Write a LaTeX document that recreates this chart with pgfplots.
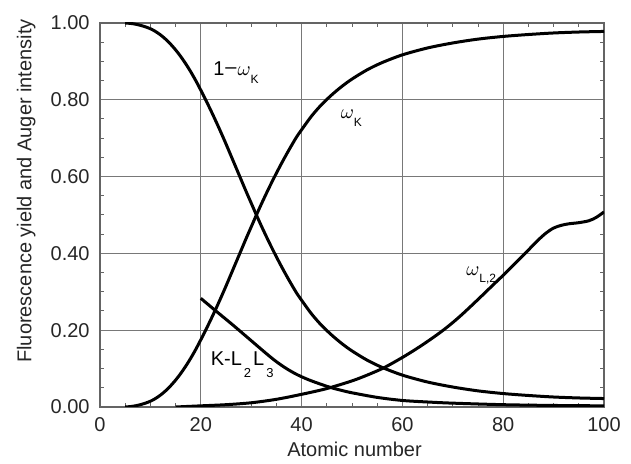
\documentclass[border=0pt]{standalone}
\usepackage{fontspec}
\setmainfont{Liberation Sans}
\usepackage{pgfplots}
\pgfplotsset{compat=1.18}
\usetikzlibrary{calc}
\definecolor{gridc}{RGB}{120,120,120}
\definecolor{framec}{RGB}{100,100,100}
\tikzset{curve/.style={black, line width=1.5pt, smooth, tension=0.5, mark=none}}
\begin{document}
\begin{tikzpicture}
\begin{axis}[
  scale only axis,
  width=252pt, height=192pt,
  xmin=0, xmax=100, ymin=0, ymax=1,
  xtick={0,20,40,60,80,100},
  ytick={0,0.2,0.4,0.6,0.8,1.0},
  minor x tick num=3,
  minor y tick num=3,
  tick align=inside,
  major tick length=0pt,
  minor tick length=2.2pt,
  grid=major,
  major grid style={draw=gridc, line width=0.6pt},
  axis line style={draw=framec, line width=0.6pt},
  every tick/.style={draw=framec, line width=0.5pt},
  /pgf/number format/assume math mode=true,
  yticklabel style={/pgf/number format/fixed, /pgf/number format/fixed zerofill, /pgf/number format/precision=2},
  tick label style={font=\fontsize{10}{12}\selectfont, text=black!85, inner sep=0pt},
  xticklabel style={yshift=-5pt},
  yticklabel style={xshift=-5pt},
  xlabel={Atomic number},
  ylabel={Fluorescence yield and Auger intensity},
  label style={font=\fontsize{10}{12}\selectfont, text=black!85},
  xlabel style={at={(axis description cs:0.505,-0.128)}, anchor=base},
  ylabel style={at={(axis description cs:-0.136,0.5625)}, anchor=base},
]
% 1 - omega_K
\addplot[curve] coordinates {
(5,1.000) (6,0.999) (7,0.997) (8,0.994) (9,0.990) (10,0.985) (11,0.978)
(12,0.969) (13,0.958) (14,0.945) (15,0.930) (16,0.913) (17,0.894)
(18,0.873) (19,0.850) (20,0.825) (21,0.799) (22,0.772) (23,0.744)
(24,0.715) (25,0.685) (26,0.654) (27,0.623) (28,0.592) (29,0.561)
(30,0.531) (31,0.501) (32,0.472) (33,0.444) (34,0.417) (35,0.391)
(36,0.366) (37,0.342) (38,0.319) (39,0.297) (40,0.278) (42,0.242)
(44,0.212) (46,0.187) (48,0.165) (50,0.146) (53,0.122) (56,0.103)
(60,0.083) (65,0.065) (70,0.052) (75,0.042) (80,0.035) (85,0.030)
(90,0.026) (95,0.0235) (100,0.022)
};
% omega_K
\addplot[curve] coordinates {
(5,0.000) (6,0.001) (7,0.003) (8,0.006) (9,0.010) (10,0.015) (11,0.022)
(12,0.031) (13,0.042) (14,0.055) (15,0.070) (16,0.087) (17,0.106)
(18,0.127) (19,0.150) (20,0.175) (21,0.201) (22,0.228) (23,0.256)
(24,0.285) (25,0.315) (26,0.346) (27,0.377) (28,0.408) (29,0.439)
(30,0.469) (31,0.499) (32,0.528) (33,0.556) (34,0.583) (35,0.609)
(36,0.634) (37,0.658) (38,0.681) (39,0.703) (40,0.722) (42,0.758)
(44,0.788) (46,0.813) (48,0.835) (50,0.854) (53,0.878) (56,0.897)
(60,0.917) (65,0.935) (70,0.948) (75,0.958) (80,0.965) (85,0.970)
(90,0.974) (95,0.9765) (100,0.978)
};
% K-L2L3
\addplot[curve] coordinates {
(20,0.283) (23,0.250) (26.5,0.212) (29.8,0.175) (33.1,0.138) (35,0.118)
(37,0.100) (39,0.085) (41,0.073) (43,0.063) (45.7,0.051) (48,0.043)
(50,0.037) (55,0.025) (60,0.017) (65,0.013) (70,0.010) (80,0.006)
(90,0.004) (100,0.003)
};
% omega_L2
\addplot[curve] coordinates {
(15,0.000) (20,0.003) (25,0.006) (30,0.011) (35,0.020) (40,0.033)
(45,0.048) (50,0.068) (53,0.083) (56,0.100) (58,0.114) (60,0.129)
(62,0.145) (64,0.162) (66,0.180) (68,0.199) (70,0.220) (72,0.243)
(75,0.280) (78,0.318) (80,0.343) (82,0.369) (84.5,0.402) (86.8,0.433)
(88.5,0.453) (90,0.466) (91.5,0.473) (93,0.477) (95,0.480) (97,0.485)
(98.5,0.494) (100,0.508)
};
\node[anchor=base west, font=\fontsize{10}{12}\selectfont, inner sep=0pt] at (axis cs:22.4,0.862)
  {1\kern0.5pt\raisebox{0.25ex}{--}\kern0.5pt$\omega$\raisebox{-0.7ex}{\fontsize{6}{7}\selectfont K}};
\node[anchor=base west, font=\fontsize{10}{12}\selectfont, inner sep=0pt] at (axis cs:47.7,0.75)
  {$\omega$\raisebox{-0.7ex}{\fontsize{6}{7}\selectfont K}};
\node[anchor=base west, font=\fontsize{10}{12}\selectfont, inner sep=0pt] at (axis cs:72.6,0.343)
  {$\omega$\raisebox{-0.7ex}{\fontsize{6}{7}\selectfont L,2}};
\node[anchor=base west, font=\fontsize{10}{12}\selectfont, inner sep=0pt] at (axis cs:21.9,0.109)
  {K-L\raisebox{-1.2ex}{\fontsize{6.5}{7}\selectfont\kern1pt 2}\kern1pt L\raisebox{-1.2ex}{\fontsize{6.5}{7}\selectfont\kern1pt 3}};
\end{axis}
\path ($(current axis.south west)+(-50pt,-27.5pt)$) rectangle ($(current axis.north east)+(13.5pt,11.5pt)$);
\end{tikzpicture}
\end{document}
